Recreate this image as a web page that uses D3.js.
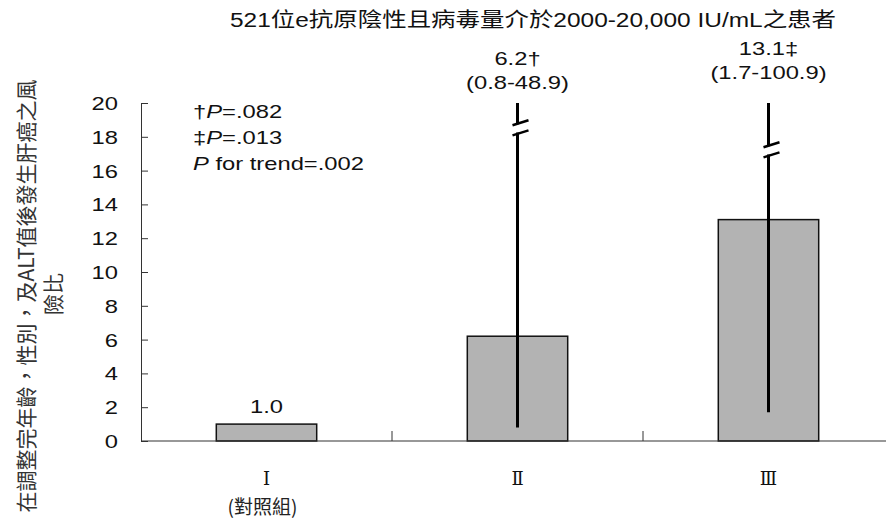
<!DOCTYPE html>
<html>
<head>
<meta charset="utf-8">
<script src="https://cdn.jsdelivr.net/npm/d3@7"></script>
<style>
  html, body { margin: 0; padding: 0; background: #fff; }
  svg { display: block; }
</style>
</head>
<body>
<svg id="chart" width="886" height="520"></svg>
<script>
// Hazard ratios of HCC by group, adjusted for age, sex and ALT
const groups = ["Ⅰ", "Ⅱ", "Ⅲ"];
const groupNotes = ["(對照組)", "", ""];
const hazardRatio = [1.0, 6.2, 13.1];
const ciLower = [null, 0.8, 1.7];
const ciUpper = [null, 48.9, 100.9];
const ratioMarks = ["", "†", "‡"];
const yTicks = [0, 2, 4, 6, 8, 10, 12, 14, 16, 18, 20];
const pNotes = [
  { mark: "†", text: "=.082" },
  { mark: "‡", text: "=.013" },
  { mark: "", text: " for trend=.002" }
];
const titleText = "521位e抗原陰性且病毒量介於2000-20,000 IU/mL之患者";
const yLabelLines = ["在調整完年齡，性別，及ALT值後發生肝癌之風", "險比"];

const LATIN = "'Liberation Sans', Arial, sans-serif";
const CJK = "'Noto Sans CJK TC', 'Noto Sans CJK SC', sans-serif";
const SX = 1.25;   // horizontal stretch of the latin lettering
const FS = 19;     // latin font size

const svg = d3.select("#chart");

const x = d3.scaleBand().domain(groups).range([141, 894]).paddingInner(0).paddingOuter(0);
const y = d3.scaleLinear().domain([0, 20]).range([441, 103]);
const barW = x.bandwidth() * 0.4;

// stretched latin text helper
function stext(sel, px, py, str, anchor, size) {
  return sel.append("text")
    .attr("transform", `translate(${px},${py}) scale(${SX},1)`)
    .attr("text-anchor", anchor)
    .attr("font-family", LATIN)
    .attr("font-size", size)
    .attr("fill", "#111")
    .text(str);
}

// title
svg.append("text")
  .attr("x", 230).attr("y", 27)
  .attr("textLength", 606).attr("lengthAdjust", "spacingAndGlyphs")
  .attr("font-family", "'Liberation Sans', 'Noto Sans CJK TC', sans-serif")
  .attr("font-size", 20)
  .attr("fill", "#111")
  .text(titleText);

// y axis
const yAxis = d3.axisLeft(y).tickValues(yTicks).tickSize(-7).tickPadding(0).tickFormat(d3.format("d"));
const gy = svg.append("g").attr("transform", "translate(141,0)").call(yAxis);
gy.select(".domain").attr("stroke", "#333");
gy.selectAll(".tick line").attr("stroke", "#333");
gy.selectAll(".tick text").remove();
yTicks.forEach(t => {
  stext(svg, 118, y(t) + 7, String(t), "end", FS);
});

// bars
const bars = svg.append("g");
groups.forEach((g, i) => {
  const cx = x(g) + x.bandwidth() / 2;
  bars.append("rect")
    .attr("x", cx - barW / 2)
    .attr("y", y(hazardRatio[i]))
    .attr("width", barW)
    .attr("height", y(0) - y(hazardRatio[i]))
    .attr("fill", "#b3b3b3")
    .attr("stroke", "#111")
    .attr("stroke-width", 1.5);
});

// x baseline and group separators
const base = svg.append("g");
base.append("line").attr("x1", 141).attr("x2", 886).attr("y1", y(0)).attr("y2", y(0))
  .attr("stroke", "#333").attr("stroke-width", 1.2);
groups.slice(1).forEach(g => {
  base.append("line").attr("x1", x(g)).attr("x2", x(g)).attr("y1", y(0)).attr("y2", y(0) - 10)
    .attr("stroke", "#333");
});

// confidence intervals, broken where the upper bound leaves the axis
const breakGap = [null, [18.8, 18.2], [17.5, 16.9]];
const ci = svg.append("g").attr("stroke", "#000").attr("stroke-width", 3).attr("fill", "none");
groups.forEach((g, i) => {
  if (ciLower[i] == null) return;
  const cx = x(g) + x.bandwidth() / 2;
  const top = ciUpper[i] > 20 ? y(20) : y(ciUpper[i]);
  if (ciUpper[i] > 20) {
    const yA = y(breakGap[i][0]);
    const yB = y(breakGap[i][1]);
    ci.append("line").attr("x1", cx).attr("x2", cx).attr("y1", top).attr("y2", yA + 1);
    ci.append("line").attr("x1", cx).attr("x2", cx).attr("y1", yB - 1).attr("y2", y(ciLower[i]));
    ci.append("line").attr("x1", cx - 5).attr("y1", yA + 2).attr("x2", cx + 11).attr("y2", yA - 3)
      .attr("stroke-width", 2.5);
    ci.append("line").attr("x1", cx - 5).attr("y1", yB + 2).attr("x2", cx + 11).attr("y2", yB - 3)
      .attr("stroke-width", 2.5);
  } else {
    ci.append("line").attr("x1", cx).attr("x2", cx).attr("y1", top).attr("y2", y(ciLower[i]));
  }
});

// value labels
groups.forEach((g, i) => {
  const cx = x(g) + x.bandwidth() / 2;
  const v = hazardRatio[i].toFixed(1) + ratioMarks[i];
  if (ciLower[i] == null) {
    stext(svg, cx, y(hazardRatio[i]) - 11, v, "middle", FS);
  } else {
    const lift = ciUpper[i] > 80 ? 10 : 0;
    stext(svg, cx, 65 - lift, v, "middle", FS);
    stext(svg, cx, 89 - lift, `(${ciLower[i]}-${ciUpper[i]})`, "middle", FS);
  }
});

// P values
pNotes.forEach((p, i) => {
  const t = svg.append("text")
    .attr("transform", `translate(193,${118 + i * 26}) scale(${SX},1)`)
    .attr("font-family", LATIN).attr("font-size", FS).attr("fill", "#111");
  if (p.mark) t.append("tspan").text(p.mark);
  t.append("tspan").attr("font-style", "italic").text("P");
  t.append("tspan").text(p.text);
});

// group labels
groups.forEach((g, i) => {
  const cx = x(g) + x.bandwidth() / 2;
  svg.append("text").attr("x", cx).attr("y", 485).attr("text-anchor", "middle")
    .attr("font-family", "'DejaVu Serif', 'Liberation Serif', serif").attr("font-size", 18)
    .attr("fill", "#111").text(g);
  if (groupNotes[i]) {
    svg.append("text").attr("x", cx - 4).attr("y", 514).attr("text-anchor", "middle")
      .attr("font-family", CJK).attr("font-size", 19).attr("fill", "#222").text(groupNotes[i]);
  }
});

// y axis title
yLabelLines.forEach((line, i) => {
  svg.append("text")
    .attr("transform", `translate(${34 + i * 27},${i === 0 ? 296 : 294}) rotate(-90)`)
    .attr("text-anchor", "middle")
    .attr("font-family", CJK).attr("font-size", 21).attr("fill", "#333")
    .text(line);
});
</script>
</body>
</html>
